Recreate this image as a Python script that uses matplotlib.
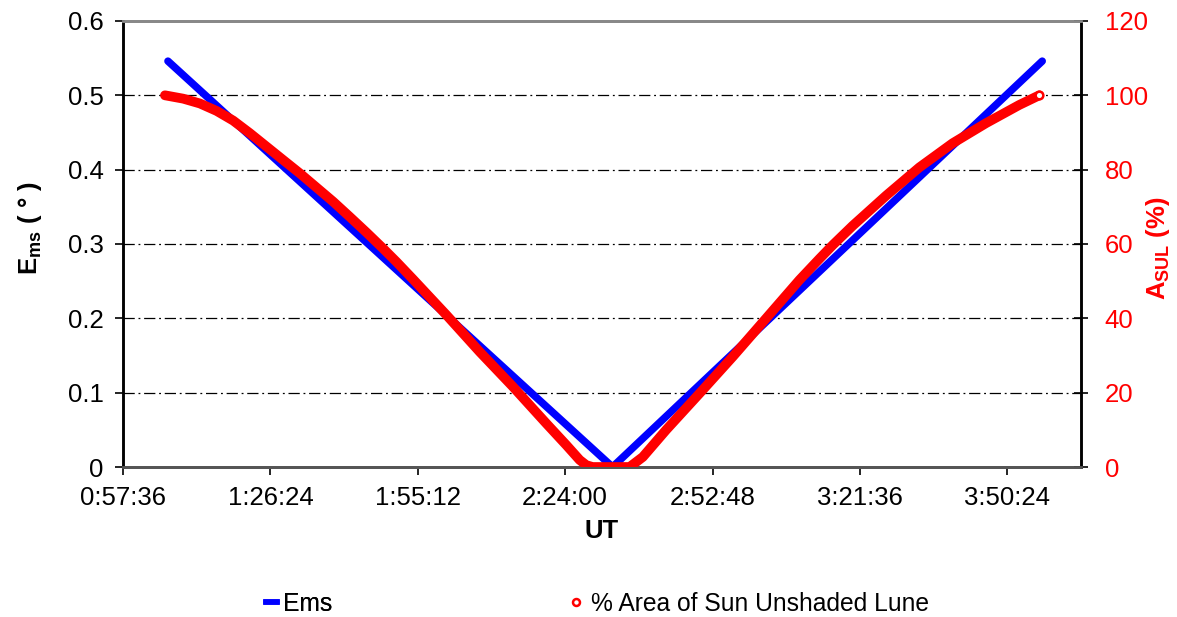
import matplotlib
matplotlib.use("Agg")
import matplotlib.pyplot as plt
from matplotlib.lines import Line2D
from matplotlib.ticker import FuncFormatter, MultipleLocator

plt.rcParams['font.family'] = ['Liberation Sans', 'DejaVu Sans']
plt.rcParams['mathtext.fontset'] = 'custom'
plt.rcParams['mathtext.rm'] = 'Liberation Sans'
plt.rcParams['mathtext.bf'] = 'Liberation Sans:bold'
plt.rcParams['mathtext.default'] = 'bf'

# ---- data ----
ems_times = ["1:06:23", "1:49:50", "2:33:16", "3:15:15", "3:57:14"]
ems_values = [0.546, 0.273, 0.0, 0.273, 0.546]

area_times = ["1:05:48", "1:09:22", "1:12:38", "1:15:54", "1:19:08", "1:22:24",
              "1:25:39", "1:28:54", "1:32:10", "1:35:25", "1:38:40", "1:41:55",
              "1:45:11", "1:48:25", "1:51:02", "1:54:17", "2:00:48", "2:07:18",
              "2:13:48", "2:20:20", "2:24:14", "2:26:50", "2:28:08", "2:29:22",
              "2:36:36", "2:39:11", "2:43:45", "2:50:16", "2:56:46", "3:03:17",
              "3:09:47", "3:13:41", "3:16:17", "3:20:11", "3:26:43", "3:33:13",
              "3:39:43", "3:46:14", "3:52:44", "3:56:39"]
area_values = [100, 99.1, 97.8, 95.8, 93.2, 89.8,
               86.2, 82.6, 79.0, 75.2, 71.4, 67.3,
               63.1, 58.8, 55.2, 50.5, 40.9, 31.0,
               21.6, 11.7, 5.9, 1.9, 0.5, 0,
               0, 2.7, 10.0, 19.8, 29.7, 40.0,
               50.3, 56.0, 59.7, 64.9, 73.0, 80.6,
               87.1, 92.5, 97.4, 100]

x_ticks = ["0:57:36", "1:26:24", "1:55:12", "2:24:00", "2:52:48", "3:21:36", "3:50:24"]


def to_day(s):
    h, m, sec = (int(v) for v in s.split(":"))
    return (h * 3600 + m * 60 + sec) / 86400.0


def fmt_time(d, pos=None):
    s = int(round(d * 86400))
    return f"{s // 3600}:{(s % 3600) // 60:02d}:{s % 60:02d}"


ex = [to_day(t) for t in ems_times]
ax_x = [to_day(t) for t in area_times]
xt = [to_day(t) for t in x_ticks]

fig = plt.figure(figsize=(11.77, 6.17), dpi=100)
ax = fig.add_axes([0.1045, 0.2431, 0.8139, 0.7229])
ax2 = ax.twinx()

FS = 18.5

ax.plot(ex, ems_values, color='#0000ff', lw=5.4, solid_capstyle='round', zorder=3)
ax2.plot(ax_x, area_values, color='#ff0000', lw=7, solid_capstyle='round',
         solid_joinstyle='round', zorder=4)
ax2.plot(ax_x[-1:], area_values[-1:], 'o', mfc='white', mec='#ff0000', mew=1.8, ms=5.5, zorder=5)

ax.set_xlim(to_day("0:57:36"), to_day("4:04:48"))
ax.set_ylim(0, 0.6)
ax2.set_ylim(0, 120)
ax.set_xticks(xt)
ax.xaxis.set_major_formatter(FuncFormatter(fmt_time))
ax.yaxis.set_major_locator(MultipleLocator(0.1))
ax.yaxis.set_major_formatter(FuncFormatter(lambda v, p: "0" if abs(v) < 1e-9 else f"{v:.1f}"))
ax2.yaxis.set_major_locator(MultipleLocator(20))

for y in [0.1, 0.2, 0.3, 0.4, 0.5]:
    ax.axhline(y, color='black', lw=0.9, dashes=(9, 3, 1.5, 3), zorder=1)

ax.tick_params(axis='both', labelsize=FS, direction='out', length=6, width=1.2, colors='black')
ax.tick_params(axis='x', pad=8)
ax.tick_params(axis='y', pad=8)
ax2.tick_params(axis='y', labelsize=FS, direction='inout', length=10, width=1.2,
                labelcolor='#ff0000', pad=12)

for a in (ax, ax2):
    a.spines['top'].set_color('#888888')
    a.spines['top'].set_linewidth(2)
    a.spines['bottom'].set_color('#555555')
    a.spines['bottom'].set_linewidth(2)
    a.spines['left'].set_color('black')
    a.spines['left'].set_linewidth(1.8)
    a.spines['right'].set_color('black')
    a.spines['right'].set_linewidth(1.8)

ax.set_xlabel("UT", fontsize=FS, fontweight='bold', labelpad=6)
fig.text(0.0255, 0.630, r"E$_{\mathbf{ms}}$ ( ° )", fontsize=FS, fontweight='bold',
         rotation=90, ha='center', va='center')
fig.text(0.9835, 0.597, r"A$_{\mathbf{SUL}}$ (%)", fontsize=FS, fontweight='bold',
         color='#ff0000', rotation=90, ha='center', va='center')

LFS = 17.7
leg1 = fig.legend([Line2D([], [], color='#0000ff', lw=4)], ["Ems"], loc='center left',
                  bbox_to_anchor=(266 / 1177, 0.021), frameon=False, fontsize=LFS,
                  handlelength=0.45, handletextpad=0.25, borderpad=0, borderaxespad=0)
leg2 = fig.legend([Line2D([], [], marker='o', ls='none', mfc='white', mec='#ff0000',
                          mew=1.8, ms=5)], ["% Area of Sun Unshaded Lune"], loc='center left',
                  bbox_to_anchor=(568.6 / 1177, 0.021), frameon=False, fontsize=LFS,
                  handlelength=0.6, handletextpad=0.3, borderpad=0, borderaxespad=0)
fig.add_artist(leg1)

fig.savefig("out.png", dpi=100)
